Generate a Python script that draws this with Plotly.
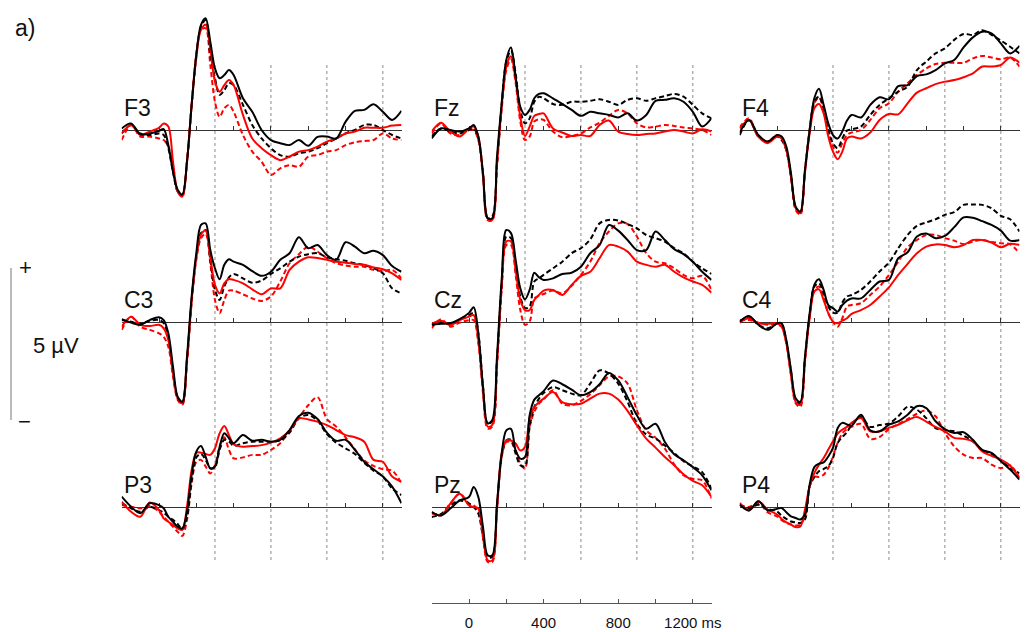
import plotly.graph_objects as go

# ---------------- data (µV) ----------------
TIME_MS = [-200, -150, -100, -50, 0, 25, 50, 75, 100, 125, 150, 175, 200, 225, 250, 275, 300, 325, 350, 375, 400,
           450, 500, 550, 600, 650, 700, 750, 800, 850, 900, 950, 1000, 1050, 1100, 1150, 1200, 1250, 1300]

CHANNELS = ["F3", "Fz", "F4", "C3", "Cz", "C4", "P3", "Pz", "P4"]

BOTTOM_TICKS = [0, 200, 400, 600, 800, 1000, 1200]
BOTTOM_TICK_TEXT = ["0", "", "400", "", "800", "", "1200 ms"]
MARKER_LINES_MS = [300, 600, 900, 1200]

F3_black_solid = [0.05, 0.21, -0.14, -0.11, -0.03, 0.03, -0.48, -1.33, -1.90, -2.05, -1.01, 0.80, 2.39, 3.35, 3.56, 2.81, 1.96, 1.65, 1.75, 1.91, 1.75,
                  1.01, 0.58, 0.0, -0.32, -0.42, -0.48, -0.32, -0.50, -0.22, -0.21, -0.27, 0.26, 0.61, 0.64, 0.82, 0.58, 0.32, 0.61]
F3_black_dashed = [-0.11, 0.16, -0.11, -0.16, -0.11, -0.16, -0.58, -1.33, -1.96, -2.07, -1.01, 0.80, 2.39, 3.29, 3.50, 2.39, 1.65, 1.12, 1.27, 1.49, 1.43,
                   0.80, 0.16, -0.27, -0.58, -0.80, -0.85, -0.74, -0.69, -0.58, -0.42, -0.27, -0.11, 0.0, 0.16, 0.16, 0.0, -0.16, -0.27]
F3_red_solid = [-0.11, 0.16, -0.16, -0.05, 0.07, 0.21, 0.11, -1.01, -1.96, -2.12, -1.01, 0.80, 2.39, 3.19, 3.35, 2.60, 1.54, 1.22, 1.43, 1.59, 1.43,
                0.48, -0.27, -0.58, -0.80, -0.96, -0.85, -0.69, -0.64, -0.53, -0.37, -0.27, -0.11, -0.05, 0.07, 0.07, 0.07, 0.14, 0.16]
F3_red_dashed = [-0.32, 0.16, -0.21, -0.21, -0.27, -0.32, -0.53, -1.12, -1.96, -2.12, -1.01, 0.80, 2.28, 3.19, 3.24, 2.07, 0.90, 0.42, 0.69, 0.80, 0.58,
                 -0.16, -0.69, -1.01, -1.43, -1.22, -1.12, -1.17, -0.85, -0.80, -0.69, -0.64, -0.48, -0.39, -0.35, -0.32, -0.11, -0.27, -0.32]

Fz_black_solid = [-0.27, 0.05, 0.0, -0.05, 0.05, 0.16, -0.21, -1.38, -2.81, -2.81, -0.85, 0.85, 2.23, 2.63, 1.70, 0.74, 0.48, 0.64, 1.01, 1.15, 1.17,
                  1.01, 0.83, 0.64, 0.45, 0.58, 0.53, 0.48, 0.40, 0.53, 0.30, 0.48, 0.93, 0.96, 1.01, 0.90, 0.58, 0.11, 0.37]
Fz_black_dashed = [-0.21, 0.05, -0.05, -0.11, 0.0, 0.05, -0.27, -1.38, -2.81, -2.76, -1.06, 0.80, 2.18, 2.53, 1.80, 0.64, 0.21, 0.37, 0.90, 1.06, 1.01,
                   0.83, 0.80, 0.90, 0.90, 0.93, 0.98, 0.90, 0.80, 0.96, 1.01, 0.93, 1.01, 1.08, 1.15, 1.06, 0.80, 0.53, 0.37]
Fz_red_solid = [-0.05, 0.23, -0.05, -0.21, 0.05, 0.11, -0.21, -1.38, -2.81, -2.86, -1.06, 0.74, 2.01, 2.35, 1.59, 0.42, -0.19, 0.11, 0.45, 0.51, 0.53,
                0.05, -0.08, -0.19, -0.16, -0.19, 0.16, 0.30, -0.05, -0.13, -0.16, -0.13, -0.11, -0.05, 0.0, -0.05, -0.11, 0.02, -0.05]
Fz_red_dashed = [-0.11, 0.21, -0.11, -0.16, 0.0, 0.0, -0.32, -1.49, -2.87, -2.87, -1.17, 0.64, 1.91, 2.25, 1.49, 0.27, -0.32, -0.21, 0.27, 0.34, 0.32,
                 -0.05, -0.23, -0.19, -0.11, 0.08, 0.23, 0.45, 0.64, 0.53, 0.21, 0.08, 0.11, 0.16, 0.13, 0.08, 0.05, 0.0, -0.16]

F4_black_solid = [-0.08, 0.32, -0.16, -0.37, -0.16, -0.21, -0.53, -1.38, -2.44, -2.60, -1.27, 0.0, 1.01, 1.31, 0.80, 0.21, -0.16, -0.27, -0.05, 0.30, 0.48,
                  0.40, 0.80, 1.04, 0.98, 1.40, 1.43, 1.72, 1.77, 1.91, 2.12, 2.23, 2.63, 2.95, 3.13, 3.08, 2.76, 2.44, 2.68]
F4_black_dashed = [-0.16, 0.32, -0.21, -0.37, -0.21, -0.32, -0.64, -1.49, -2.49, -2.65, -1.27, 0.0, 0.90, 1.06, 0.69, 0.0, -0.42, -0.58, -0.27, -0.02, 0.02,
                   0.11, 0.48, 0.80, 1.01, 1.22, 1.38, 1.91, 2.18, 2.44, 2.60, 2.87, 3.06, 3.03, 3.18, 3.03, 2.85, 2.65, 2.44]
F4_red_solid = [0.05, 0.32, -0.21, -0.42, -0.21, -0.27, -0.64, -1.49, -2.49, -2.65, -1.33, -0.11, 0.69, 0.83, 0.53, -0.21, -0.69, -0.93, -0.69, -0.27, -0.21,
                -0.27, -0.08, 0.32, 0.51, 0.50, 0.85, 1.19, 1.33, 1.46, 1.54, 1.59, 1.68, 1.80, 2.02, 2.02, 2.07, 2.31, 2.14]
F4_red_dashed = [0.08, 0.37, -0.21, -0.37, -0.16, -0.27, -0.64, -1.49, -2.55, -2.70, -1.33, -0.05, 0.85, 1.04, 0.64, 0.0, -0.53, -0.72, -0.42, -0.16, -0.08,
                 0.0, 0.32, 0.69, 0.85, 1.22, 1.49, 1.75, 1.96, 2.10, 2.14, 2.14, 2.14, 2.28, 2.36, 2.31, 2.25, 2.31, 2.02]

C3_black_solid = [0.10, -0.01, -0.08, 0.07, 0.16, 0.07, -0.35, -1.41, -2.37, -2.53, -1.09, 0.82, 2.20, 3.10, 3.15, 2.30, 1.72, 1.37, 1.83, 2.01, 1.93,
                  1.83, 1.63, 1.48, 1.61, 1.99, 2.20, 2.71, 2.36, 2.46, 2.14, 1.99, 2.55, 2.41, 2.20, 2.28, 2.14, 1.79, 1.61]
C3_black_dashed = [0.07, 0.02, -0.05, 0.05, 0.07, -0.03, -0.46, -1.52, -2.42, -2.58, -1.20, 0.71, 2.09, 2.84, 2.94, 1.99, 1.03, 0.71, 1.14, 1.43, 1.54,
                   1.40, 1.26, 1.33, 1.54, 1.72, 1.93, 2.09, 2.17, 2.20, 2.07, 2.01, 1.96, 1.88, 1.82, 1.72, 1.56, 1.08, 0.92]
C3_red_solid = [-0.14, 0.18, -0.08, -0.12, -0.08, -0.19, -0.56, -1.62, -2.42, -2.58, -1.20, 0.71, 2.09, 2.79, 2.92, 2.09, 1.19, 0.92, 1.24, 1.38, 1.35,
                1.24, 1.05, 0.89, 1.08, 1.08, 1.67, 1.93, 2.07, 2.05, 1.99, 1.93, 1.90, 1.86, 1.83, 1.75, 1.69, 1.56, 1.35]
C3_red_dashed = [-0.24, 0.18, -0.14, -0.24, -0.35, -0.46, -0.78, -1.73, -2.47, -2.63, -1.31, 0.61, 1.99, 2.68, 2.82, 1.88, 0.71, 0.29, 0.71, 1.01, 1.01,
                 0.89, 0.76, 0.68, 0.82, 1.30, 1.88, 2.17, 2.41, 2.25, 2.04, 1.88, 1.81, 1.77, 1.77, 1.67, 1.63, 1.67, 1.40]

Cz_black_solid = [-0.08, -0.05, -0.03, 0.10, 0.30, 0.48, -0.35, -2.05, -3.22, -3.11, -1.09, 1.35, 2.94, 2.84, 1.99, 1.08, 0.73, 1.03, 1.58, 1.43, 1.35,
                  1.40, 1.54, 1.58, 1.77, 2.20, 2.46, 3.10, 2.92, 2.62, 2.30, 2.30, 2.89, 2.62, 2.33, 2.17, 1.93, 1.61, 1.35]
Cz_black_dashed = [-0.08, 0.02, -0.08, 0.07, 0.23, 0.29, -0.35, -2.05, -3.22, -3.16, -1.20, 1.19, 2.73, 2.68, 1.77, 0.82, 0.45, 0.50, 1.30, 1.40, 1.51,
                   1.72, 1.93, 2.20, 2.36, 2.64, 3.15, 3.26, 3.24, 3.13, 2.99, 2.78, 2.68, 2.57, 2.36, 2.20, 1.93, 1.72, 1.54]
Cz_red_solid = [-0.05, 0.05, -0.08, 0.07, 0.18, 0.23, -0.56, -2.15, -3.32, -3.27, -1.31, 1.14, 2.57, 2.57, 1.67, 0.71, 0.39, 0.39, 0.71, 0.87, 1.01,
                1.03, 0.87, 1.19, 1.48, 1.61, 2.04, 2.46, 2.41, 2.25, 1.93, 1.83, 1.77, 1.83, 1.61, 1.43, 1.30, 1.19, 0.94]
Cz_red_dashed = [-0.19, 0.10, -0.14, -0.01, 0.07, 0.07, -0.67, -2.26, -3.38, -3.32, -1.41, 1.03, 2.46, 2.46, 1.51, 0.39, -0.08, 0.02, 0.76, 0.84, 0.90,
                 1.01, 0.92, 1.16, 1.51, 1.93, 2.52, 2.89, 3.15, 3.13, 2.73, 2.20, 1.93, 1.88, 1.72, 1.51, 1.40, 1.48, 1.03]

C4_black_solid = [0.02, 0.20, -0.08, -0.24, -0.03, -0.03, -0.56, -1.52, -2.42, -2.53, -1.09, 0.29, 1.19, 1.37, 1.03, 0.55, 0.45, 0.34, 0.55, 0.69, 0.76,
                  0.76, 1.03, 1.30, 1.35, 2.04, 2.23, 2.73, 2.83, 2.68, 2.75, 3.03, 3.34, 3.33, 3.22, 3.10, 2.92, 2.60, 2.62]
C4_black_dashed = [0.02, 0.18, -0.08, -0.19, -0.03, -0.08, -0.62, -1.57, -2.47, -2.58, -1.15, 0.23, 1.14, 1.24, 0.92, 0.50, 0.31, 0.31, 0.63, 0.82, 0.87,
                   1.03, 1.30, 1.62, 1.90, 2.36, 2.78, 3.07, 3.18, 3.28, 3.42, 3.51, 3.74, 3.75, 3.74, 3.63, 3.39, 3.28, 2.89]
C4_red_solid = [-0.01, 0.13, -0.03, -0.05, -0.03, -0.14, -0.67, -1.68, -2.53, -2.63, -1.20, 0.13, 0.98, 1.05, 0.71, 0.29, 0.02, -0.03, 0.05, 0.13, 0.27,
                0.39, 0.55, 0.82, 1.11, 1.51, 1.86, 2.20, 2.41, 2.48, 2.46, 2.39, 2.46, 2.62, 2.62, 2.54, 2.39, 2.50, 2.46]
C4_red_dashed = [0.07, 0.07, -0.01, -0.08, -0.08, -0.14, -0.67, -1.68, -2.58, -2.69, -1.20, 0.18, 1.03, 1.14, 0.76, 0.29, 0.02, -0.14, 0.13, 0.50, 0.55,
                 0.61, 0.87, 1.14, 1.51, 1.93, 2.39, 2.62, 2.78, 2.78, 2.68, 2.60, 2.49, 2.57, 2.62, 2.56, 2.52, 2.48, 2.20]

P3_black_solid = [0.33, 0.01, -0.20, 0.12, 0.06, -0.04, -0.31, -0.47, -0.63, -0.68, -0.15, 1.02, 1.76, 1.94, 1.60, 1.23, 1.29, 1.92, 2.35, 2.19, 2.03,
                  2.29, 2.11, 2.14, 2.08, 2.14, 2.45, 2.90, 3.00, 2.80, 2.37, 2.11, 2.14, 1.82, 1.44, 1.20, 0.97, 0.65, 0.12]
P3_black_dashed = [0.12, -0.04, -0.15, 0.01, -0.10, -0.18, -0.31, -0.41, -0.54, -0.71, -0.31, 0.86, 1.58, 1.69, 1.50, 1.23, 1.27, 1.82, 2.14, 2.08, 1.95,
                   2.03, 2.08, 2.08, 2.08, 2.12, 2.37, 2.82, 2.93, 2.75, 2.32, 2.05, 1.87, 1.69, 1.41, 1.16, 0.97, 0.59, 0.38]
P3_red_solid = [0.17, -0.15, -0.31, 0.14, -0.10, -0.36, -0.47, -0.57, -0.68, -0.73, 0.01, 1.18, 1.73, 1.73, 1.69, 1.66, 1.87, 2.35, 2.58, 2.29, 2.00,
                1.92, 1.94, 1.97, 2.05, 2.19, 2.43, 2.82, 2.79, 2.72, 2.61, 2.45, 2.29, 2.22, 2.08, 1.50, 1.44, 0.97, 0.81]
P3_red_dashed = [0.06, 0.01, -0.04, 0.03, -0.15, -0.31, -0.47, -0.63, -0.79, -0.92, -0.41, 0.75, 1.44, 1.50, 1.29, 1.07, 1.34, 1.92, 2.22, 1.82, 1.55,
                 1.58, 1.66, 1.66, 1.82, 2.03, 2.43, 2.85, 3.24, 3.50, 2.80, 2.56, 2.22, 1.84, 1.48, 1.31, 1.20, 1.16, 0.75]

Pz_black_solid = [-0.16, -0.27, -0.05, 0.21, 0.32, 0.64, 0.32, -0.64, -1.54, -1.54, 0.11, 1.70, 2.44, 2.49, 1.80, 1.54, 1.59, 2.92, 3.42, 3.56, 3.69,
                  4.03, 3.91, 3.74, 3.56, 3.66, 3.91, 4.27, 4.03, 3.50, 2.92, 2.49, 2.65, 2.07, 1.68, 1.49, 1.27, 1.01, 0.53]
Pz_black_dashed = [-0.32, -0.23, 0.05, 0.21, 0.11, 0.0, -0.21, -0.96, -1.59, -1.59, 0.0, 1.59, 2.12, 2.14, 1.70, 1.33, 1.30, 2.55, 3.18, 3.45, 3.63,
                   3.82, 3.72, 3.61, 3.56, 3.93, 4.35, 4.25, 3.93, 3.35, 2.65, 2.31, 2.18, 1.96, 1.72, 1.46, 1.29, 1.11, 0.58]
Pz_red_solid = [-0.16, -0.27, 0.11, 0.42, 0.05, 0.0, -0.05, -0.96, -1.70, -1.70, 0.0, 1.70, 2.12, 2.12, 2.02, 1.80, 1.91, 2.81, 3.18, 3.34, 3.45,
                3.66, 3.34, 3.27, 3.29, 3.45, 3.61, 3.61, 3.42, 3.06, 2.60, 2.18, 1.89, 1.59, 1.33, 1.04, 0.83, 0.69, 0.32]
Pz_red_dashed = [-0.21, -0.23, 0.11, 0.42, 0.11, 0.05, -0.11, -0.96, -1.75, -1.75, -0.11, 1.59, 2.07, 2.07, 1.80, 1.38, 1.22, 2.55, 3.03, 3.29, 3.42,
                 3.72, 3.29, 3.24, 3.38, 3.59, 3.88, 4.16, 4.16, 3.93, 3.08, 2.44, 2.21, 1.86, 1.36, 1.01, 0.90, 0.85, 0.27]

P4_black_solid = [0.07, -0.11, 0.18, -0.11, -0.06, -0.03, -0.17, -0.30, -0.35, -0.40, -0.24, 0.71, 1.27, 1.38, 1.42, 1.61, 1.88, 2.51, 2.68, 2.63, 2.59,
                  2.94, 2.44, 2.41, 2.62, 2.73, 2.94, 3.21, 3.15, 2.73, 2.48, 2.36, 2.38, 2.14, 1.82, 1.72, 1.46, 1.19, 0.87]
P4_black_dashed = [0.07, -0.03, 0.07, -0.06, -0.14, -0.28, -0.38, -0.46, -0.49, -0.51, -0.40, 0.66, 0.95, 1.14, 1.21, 1.30, 1.56, 2.04, 2.23, 2.38, 2.62,
                   2.87, 2.55, 2.61, 2.66, 2.89, 3.19, 3.10, 2.83, 2.51, 2.44, 2.41, 2.27, 2.09, 1.82, 1.69, 1.48, 1.24, 1.08]
P4_red_solid = [0.13, -0.11, 0.18, -0.08, -0.24, -0.38, -0.49, -0.56, -0.64, -0.62, -0.08, 0.66, 1.08, 1.35, 1.56, 1.83, 2.09, 2.34, 2.46, 2.55, 2.68,
                2.83, 2.41, 2.41, 2.52, 2.62, 2.76, 2.87, 2.72, 2.55, 2.41, 2.20, 2.17, 2.09, 1.77, 1.63, 1.51, 1.32, 0.92]
P4_red_dashed = [0.07, 0.0, 0.13, -0.17, -0.30, -0.42, -0.51, -0.56, -0.59, -0.56, -0.30, 0.66, 0.96, 0.96, 1.03, 1.24, 1.61, 2.04, 2.34, 2.48, 2.55,
                 2.65, 2.17, 2.23, 2.48, 2.64, 2.80, 2.97, 3.08, 2.89, 2.36, 1.93, 1.67, 1.56, 1.56, 1.35, 1.24, 1.32, 0.92]

SERIES = {
    "F3": (F3_red_dashed, F3_black_dashed, F3_red_solid, F3_black_solid),
    "Fz": (Fz_red_dashed, Fz_black_dashed, Fz_red_solid, Fz_black_solid),
    "F4": (F4_red_dashed, F4_black_dashed, F4_red_solid, F4_black_solid),
    "C3": (C3_red_dashed, C3_black_dashed, C3_red_solid, C3_black_solid),
    "Cz": (Cz_red_dashed, Cz_black_dashed, Cz_red_solid, Cz_black_solid),
    "C4": (C4_red_dashed, C4_black_dashed, C4_red_solid, C4_black_solid),
    "P3": (P3_red_dashed, P3_black_dashed, P3_red_solid, P3_black_solid),
    "Pz": (Pz_red_dashed, Pz_black_dashed, Pz_red_solid, Pz_black_solid),
    "P4": (P4_red_dashed, P4_black_dashed, P4_red_solid, P4_black_solid),
}

# ---------------- layout geometry / styles ----------------
W, H = 1029, 632
FONT = "Liberation Sans, Arial, sans-serif"
RED, BLACK = "#ff0000", "#000000"
DASH = "5px,3px"
STYLES = [(RED, DASH), (BLACK, DASH), (RED, "solid"), (BLACK, "solid")]

COL_LEFT = [121.7, 431.7, 739.7]     # px at -200 ms
COL_WIDTH = 279.8                    # px for 1500 ms
ROW_BASE = [130.0, 322.3, 507.0]     # px of 0 µV
ROW_TOP = [0.0, 172.0, 357.0]
ROW_BOTTOM = [240.0, 440.0, 600.0]
PX_PER_UV = 31.4
X_RANGE = [-200, 1300]


def py(px):
    return 1 - px / H


def px_x(px):
    return px / W


fig = go.Figure()
layout = dict(
    template="none",
    width=W, height=H, autosize=False, margin=dict(l=0, r=0, t=0, b=0, pad=0, autoexpand=False),
    paper_bgcolor="white", plot_bgcolor="rgba(0,0,0,0)",
    showlegend=False, font=dict(family=FONT, color="#111"),
)
shapes, annotations = [], []

for i, ch in enumerate(CHANNELS):
    r, c = divmod(i, 3)
    k = i + 1
    xa, ya = f"x{k}", f"y{k}"
    for vals, (color, dash) in zip(SERIES[ch], STYLES):
        fig.add_trace(go.Scatter(
            x=TIME_MS, y=vals, xaxis=xa, yaxis=ya, mode="lines",
            line=dict(color=color, width=2, dash=dash, shape="spline", smoothing=0.9),
            hoverinfo="skip", showlegend=False))
    b = ROW_BASE[r]
    layout[f"xaxis{k}"] = dict(
        domain=[px_x(COL_LEFT[c]), px_x(COL_LEFT[c] + COL_WIDTH)], range=X_RANGE,
        anchor="free", position=py(b), showline=True, linecolor="#333", linewidth=1,
        ticks="inside", tickvals=BOTTOM_TICKS, ticklen=4, tickwidth=1, tickcolor="#333",
        showticklabels=False, showgrid=False, zeroline=False, layer="below traces",
        automargin=False, fixedrange=True)
    layout[f"yaxis{k}"] = dict(
        domain=[py(ROW_BOTTOM[r]), py(ROW_TOP[r])],
        range=[-(ROW_BOTTOM[r] - b) / PX_PER_UV, (b - ROW_TOP[r]) / PX_PER_UV],
        anchor=xa, visible=False, automargin=False, fixedrange=True)
    annotations.append(dict(
        text=ch, xref="paper", yref="paper", x=px_x(COL_LEFT[c] + 0.5), y=py(b - 22.5),
        xanchor="left", yanchor="middle", showarrow=False,
        font=dict(size=23, family=FONT, color="#111")))

# dotted reference lines at 300/600/900/1200 ms, spanning all three rows
for c in range(3):
    for t in MARKER_LINES_MS:
        shapes.append(dict(type="line", xref=f"x{c + 1}", yref="paper", x0=t, x1=t,
                           y0=py(560), y1=py(63), layer="below",
                           line=dict(color="#8a8a8a", width=1, dash="dot")))

# time axis below the middle column
fig.add_trace(go.Scatter(x=[], y=[], xaxis="x10", yaxis="y10", mode="lines", showlegend=False))
layout["xaxis10"] = dict(
    domain=[px_x(COL_LEFT[1]), px_x(COL_LEFT[1] + COL_WIDTH)], range=X_RANGE,
    anchor="free", position=py(603.3), showline=True, linecolor="#555", linewidth=1,
    ticks="inside", tickvals=BOTTOM_TICKS, ticktext=BOTTOM_TICK_TEXT, ticklen=4, tickcolor="#555",
    tickfont=dict(size=15, family=FONT, color="#111"), ticklabelstandoff=6, tickangle=0,
    showgrid=False, zeroline=False, automargin=False, fixedrange=True)
layout["yaxis10"] = dict(domain=[0, 0.02], range=[0, 1], anchor="x10", visible=False,
                         automargin=False, fixedrange=True)

# amplitude scale bar
shapes.append(dict(type="line", xref="paper", yref="paper", x0=px_x(11), x1=px_x(11),
                   y0=py(420), y1=py(268), line=dict(color="#777", width=1)))
for txt, xp, yp, size in [("+", 25, 267, 22), ("\u2212", 24, 421, 22), ("5 \u00b5V", 56, 345, 22), ("a)", 25, 28, 23)]:
    annotations.append(dict(text=txt, xref="paper", yref="paper", x=px_x(xp), y=py(yp),
                            xanchor="center", yanchor="middle", showarrow=False,
                            font=dict(size=size, family=FONT, color="#111")))

layout["shapes"] = shapes
layout["annotations"] = annotations
fig.update_layout(**layout)
fig.write_html(
    "out.html",
    config={"displayModeBar": False, "responsive": False},
    post_script="document.documentElement.style.overflow='hidden';"
                "document.body.style.margin='0';document.body.style.overflow='hidden';",
)
